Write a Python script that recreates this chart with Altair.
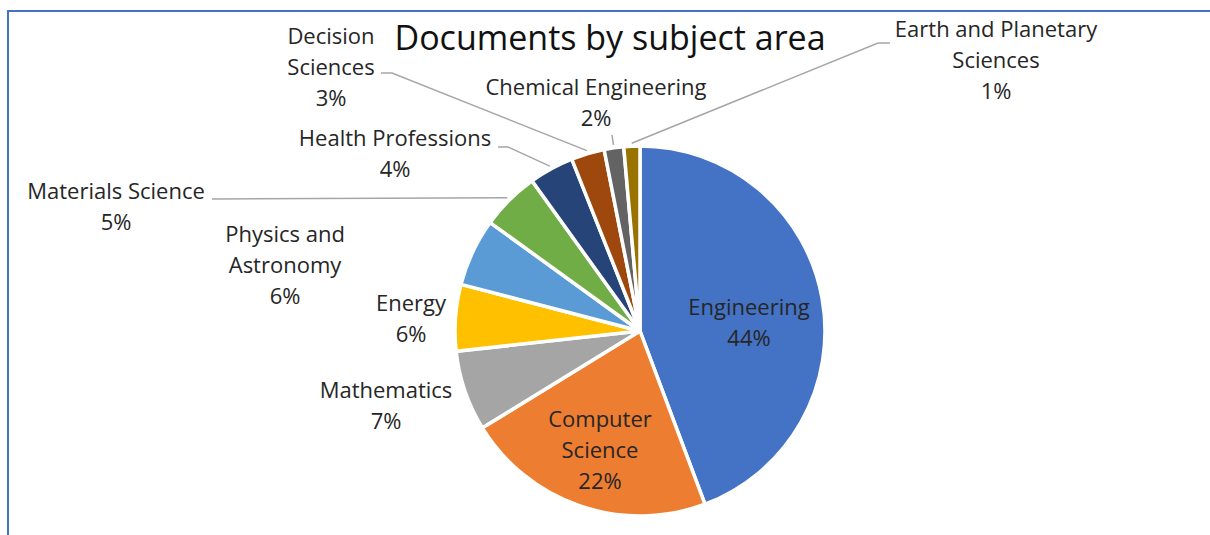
import math
import altair as alt
import pandas as pd

# ---- data ----
categories = ["Engineering", "Computer Science", "Mathematics", "Energy",
              "Physics and Astronomy", "Materials Science", "Health Professions",
              "Decision Sciences", "Chemical Engineering", "Earth and Planetary Sciences"]
values = [44.2, 21.9, 7.0, 5.8, 5.9, 5.1, 3.9, 2.9, 1.7, 1.4]
label_text = ["Engineering\n44%", "Computer\nScience\n22%", "Mathematics\n7%", "Energy\n6%",
              "Physics and\nAstronomy\n6%", "Materials Science\n5%", "Health Professions\n4%",
              "Decision\nSciences\n3%", "Chemical Engineering\n2%", "Earth and Planetary\nSciences\n1%"]
colors = ["#4472C4", "#ED7D31", "#A5A5A5", "#FFC000", "#5B9BD5",
          "#70AD47", "#264478", "#9E480E", "#636363", "#997300"]
title_text = "Documents by subject area"

# ---- layout ----
W, H = 1210, 535
CX, CY, R = 640, 331, 185
# centre x and first-line middle y of each label block
label_pos = [(749, 308), (600, 420), (386, 391), (411, 304), (285, 235),
             (116, 192), (395, 139), (331, 37), (596, 88), (996, 30)]
leader_start = {
    "Decision Sciences": [(381, 73), (392, 73)],
    "Health Professions": [(498, 147), (508, 147)],
    "Materials Science": [(212, 199)],
    "Chemical Engineering": [(612, 135)],
    "Earth and Planetary Sciences": [(890, 43), (878, 43)],
}

total = sum(values)
df = pd.DataFrame({"cat": categories, "value": values, "idx": list(range(len(values)))})

lab = pd.DataFrame({"cat": categories, "text": label_text,
                    "lx": [p[0] for p in label_pos], "ly": [p[1] for p in label_pos]})

rows = []
cum = 0.0
for c, v in zip(categories, values):
    mid = (cum + v / 2) / total * 2 * math.pi
    cum += v
    if c in leader_start:
        pts = list(leader_start[c])
        ex = CX + (R + 3) * math.sin(mid)
        ey = CY - (R + 3) * math.cos(mid)
        pts.append((ex, ey))
        for k, (px, py) in enumerate(pts):
            rows.append({"cat": c, "k": k, "px": px, "py": py})
lead = pd.DataFrame(rows)

xs = alt.Scale(domain=[0, W], range=[0, W])
ys = alt.Scale(domain=[0, H], range=[0, H])

pie = alt.Chart(df).mark_arc(outerRadius=R, stroke="white", strokeWidth=3.5).encode(
    theta=alt.Theta("value:Q", stack=True),
    order=alt.Order("idx:Q"),
    color=alt.Color("cat:N", scale=alt.Scale(domain=categories, range=colors), legend=None),
    x=alt.value(CX), y=alt.value(CY),
)

lines = alt.Chart(lead).mark_line(color="#A6A6A6", strokeWidth=1.5).encode(
    x=alt.X("px:Q", scale=xs, axis=None),
    y=alt.Y("py:Q", scale=ys, axis=None),
    detail="cat:N",
    order="k:Q",
)

labels = alt.Chart(lab).mark_text(font="Open Sans", fontSize=22, color="#262626",
                                  lineBreak="\n", lineHeight=31, baseline="middle",
                                  align="center").encode(
    x=alt.X("lx:Q", scale=xs, axis=None),
    y=alt.Y("ly:Q", scale=ys, axis=None),
    text="text:N",
)

title = alt.Chart(pd.DataFrame({"t": [title_text]})).mark_text(
    font="Open Sans", fontSize=34, color="#111111", align="center", baseline="middle"
).encode(x=alt.value(610), y=alt.value(40), text="t:N")

frame_top = alt.Chart(pd.DataFrame({"a": [0]})).mark_rule(color="#4472C4", strokeWidth=2).encode(
    x=alt.value(7), x2=alt.value(W), y=alt.value(11))
frame_left = alt.Chart(pd.DataFrame({"a": [0]})).mark_rule(color="#4472C4", strokeWidth=2).encode(
    x=alt.value(8), y=alt.value(10), y2=alt.value(H))

chart = alt.layer(frame_top, frame_left, pie, lines, labels, title).properties(
    width=W, height=H, padding=0, autosize=alt.AutoSizeParams(type="none"),
    background="white",
).configure_view(stroke=None)

chart.save("out.html", embed_options={"renderer": "svg", "actions": False})
